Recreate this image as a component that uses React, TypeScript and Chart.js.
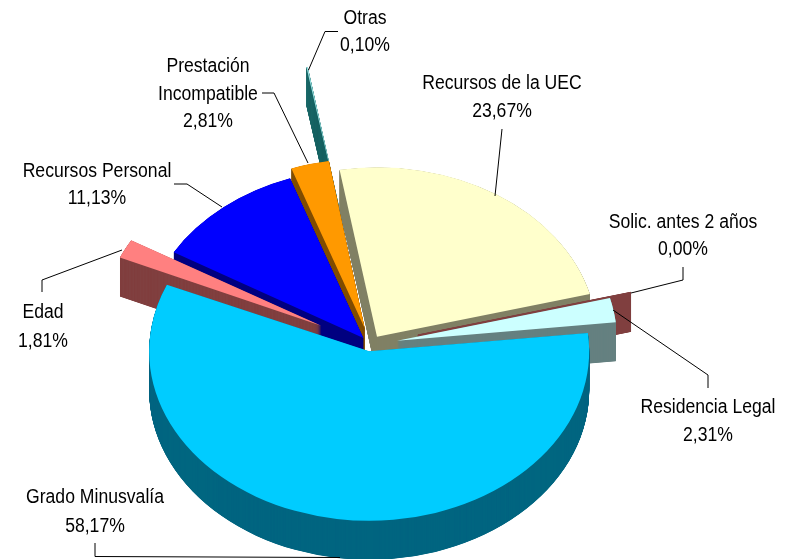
import React, { useEffect, useRef } from "react";
import { Chart, registerables } from "chart.js";

Chart.register(...registerables);

const categories = [
  "Recursos de la UEC",
  "Solic. antes 2 años",
  "Residencia Legal",
  "Grado Minusvalía",
  "Edad",
  "Recursos Personal",
  "Prestación Incompatible",
  "Otras",
];
const shares = [23.67, 0.004, 2.31, 58.17, 1.81, 11.13, 2.81, 0.1];
const topColors = ["#FFFFCC", "#803F3F", "#CCFFFF", "#00CCFF", "#FF8080", "#0000FF", "#FF9900", "#99E0E0"];
const wallColors = ["#808066", "#803F3F", "#668080", "#006680", "#804040", "#000080", "#804D00", "#1A6666"];
const explode = [12, 49, 27, 9, 55, 11, 22, 146];
const nudgeDegrees = [0, 0, 0, 0, 0.6, 0.8, 0.8, 0];
const borderWidths = [0, 1, 0, 0, 0, 0, 0, 0];
const paintOrder = [7, 6, 5, 0, 4, 1, 2, 3];

const CENTER_X = 370.5;
const CENTER_Y = 344.5;
const RADIUS = 220;
const SQUASH = 0.77;
const DEPTH = 39;
const FONT = '20px "Liberation Sans", Arial, sans-serif';
const TEXT_STRETCH = 0.88;

type Note = { lines: string[]; x: number; baselines: number[]; leader: number[][] };
const pct = (i: number) => shares[i].toFixed(2).replace(".", ",") + "%";
const notes: Note[] = [
  { lines: [categories[0], pct(0)], x: 502, baselines: [89, 117], leader: [[502, 129], [495, 196]] },
  { lines: [categories[1], pct(1)], x: 683, baselines: [228, 255], leader: [[683, 267], [683, 280], [631, 293]] },
  { lines: [categories[2], pct(2)], x: 708, baselines: [413, 441], leader: [[613, 310], [708, 375], [708, 388]] },
  { lines: [categories[3], pct(3)], x: 95, baselines: [503, 532], leader: [[95, 543], [95, 556.5], [340, 557.5]] },
  { lines: [categories[4], pct(4)], x: 43, baselines: [318, 347], leader: [[42, 292], [42, 280], [122, 250]] },
  { lines: [categories[5], pct(5)], x: 97, baselines: [177, 204], leader: [[174, 184], [187, 184], [222, 207]] },
  { lines: ["Prestación", "Incompatible", pct(6)], x: 208, baselines: [72, 100, 127], leader: [[262, 93], [274, 93], [308, 163]] },
  { lines: [categories[7], pct(7)], x: 365, baselines: [24, 51], leader: [[308.5, 70], [325, 31.5], [338, 31.5]] },
];

const pie3d = {
  id: "pie3d",
  beforeDatasetsDraw(chart: any) {
    const { ctx } = chart;
    const arcs = chart.getDatasetMeta(0).data;
    const paintAt = (arc: any, i: number, dy: number, color: string) => {
      const saved = arc.options;
      arc.options = {
        offset: 0,
        spacing: 0,
        circular: true,
        borderRadius: 0,
        borderAlign: "center",
        borderJoinStyle: "round",
        borderWidth: borderWidths[i],
        backgroundColor: color,
        borderColor: color,
      };
      const mid = (arc.startAngle + arc.endAngle) / 2;
      ctx.save();
      ctx.translate(arc.x, arc.y + dy);
      ctx.scale(1, SQUASH);
      ctx.translate(Math.cos(mid) * explode[i], Math.sin(mid) * explode[i]);
      ctx.rotate((nudgeDegrees[i] * Math.PI) / 180);
      ctx.translate(-arc.x, -arc.y);
      arc.draw(ctx);
      ctx.restore();
      arc.options = saved;
    };
    for (const i of paintOrder) {
      for (let d = DEPTH; d > 0; d -= 0.25) paintAt(arcs[i], i, d, wallColors[i]);
      paintAt(arcs[i], i, 0, topColors[i]);
    }
    return false;
  },
  afterDraw(chart: any) {
    const { ctx } = chart;
    ctx.save();
    ctx.strokeStyle = "#000000";
    ctx.lineWidth = 1;
    ctx.fillStyle = "#000000";
    ctx.font = FONT;
    ctx.textAlign = "center";
    ctx.textBaseline = "alphabetic";
    for (const n of notes) {
      ctx.beginPath();
      n.leader.forEach(([x, y], k) => (k ? ctx.lineTo(x, y) : ctx.moveTo(x, y)));
      ctx.stroke();
      n.lines.forEach((t, k) => {
        ctx.save();
        ctx.translate(n.x, n.baselines[k]);
        ctx.scale(TEXT_STRETCH, 1);
        ctx.fillText(t, 0, 0);
        ctx.restore();
      });
    }
    ctx.restore();
  },
};

export default function App() {
  const ref = useRef<HTMLCanvasElement>(null);
  useEffect(() => {
    document.body.style.margin = "0";
    document.body.style.background = "#ffffff";
    const chart = new Chart(ref.current as HTMLCanvasElement, {
      type: "pie",
      data: {
        labels: categories,
        datasets: [
          {
            data: shares,
            backgroundColor: topColors,
            borderWidth: 0,
            hoverOffset: 0,
          },
        ],
      },
      options: {
        responsive: false,
        animation: false,
        devicePixelRatio: 1,
        rotation: -9.8,
        radius: RADIUS,
        cutout: "0%",
        layout: {
          padding: {
            left: 0,
            top: 2 * CENTER_Y - 559,
            right: 785 - 2 * CENTER_X,
            bottom: 0,
          },
        },
        plugins: { legend: { display: false }, tooltip: { enabled: false }, title: { display: false } },
      } as any,
      plugins: [pie3d as any],
    });
    return () => chart.destroy();
  }, []);
  return <canvas ref={ref} width={785} height={559} style={{ display: "block" }} />;
}
